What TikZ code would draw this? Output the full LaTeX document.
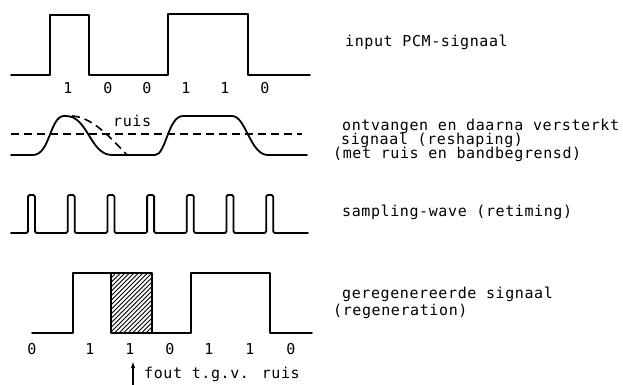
\documentclass[tikz,border=0pt]{standalone}
\usepackage{fontspec}
\newfontfamily\tw[LetterSpace=4]{DejaVu Sans Mono}
\usetikzlibrary{arrows.meta}
\tikzset{
  sig/.style={line width=1.8pt, line join=round, line cap=round},
  txt/.style={font=\tw\fontsize{15}{18}\selectfont, inner sep=0pt, anchor=base west},
  bitlbl/.style={font=\tw\fontsize{15}{18}\selectfont, inner sep=0pt},
  dsh/.style={line width=1.6pt, dash pattern=on 8pt off 5pt},
}
\begin{document}
\begin{tikzpicture}[x=1pt,y=-1pt]
\useasboundingbox (0,0) rectangle (623,385);
% row 1: input PCM signal
\draw[sig] (11,75) -- (50,75) -- (50,15) -- (89,15) -- (89,75) -- (168,75) -- (168,14) -- (248,14) -- (248,75) -- (310,75);
\foreach \x/\b [count=\i] in {68/1,108/0,147/0,186/1,225/1,265/0}
  \node[bitlbl] (top\i) at (\x,88) {\b};
% row 2: received signal
\draw[dsh] (11,134) -- (302,134);
\draw[sig] (11,155) -- (33,155) .. controls (50,155) and (50,116) .. (64,116) -- (66,116)
  .. controls (88,116) and (90,155) .. (112,155) -- (155,155)
  .. controls (166,155) and (168,116) .. (183,116) -- (232,116)
  .. controls (246,116) and (250,155) .. (268,155) -- (307,155);
\draw[dsh] (72,116) .. controls (92,117) and (110,137) .. (127,155);
\node[txt] (ruis) at (113,127) {ruis};
% row 3: sampling wave
\draw[sig, rounded corners=1.5pt] (11,233)
  \foreach \x in {28,67.7,107.4,147.1,186.8,226.5,266.2} { -- (\x,233) -- (\x,195) -- (\x+7,195) -- (\x+7,233) }
  -- (308,233);
% row 4: regenerated signal
\begin{scope}
  \clip (111,273) rectangle (152,333);
  \foreach \i in {-64,-59.5,...,46} \draw[line width=0.9pt] (111+\i,333) -- ++(60,-60);
\end{scope}
\draw[sig] (32,333) -- (73,333) -- (73,273) -- (152,273) -- (152,333) -- (191,333) -- (191,273) -- (270,273) -- (270,333) -- (312,333);
\draw[sig] (111,273) -- (111,333) -- (152,333);
\foreach \x/\b [count=\i] in {32/0,90/1,130/1,170/0,209/1,250/1,291/0}
  \node[bitlbl] (bot\i) at (\x,349) {\b};
\coordinate (atail) at (133,386);
\coordinate (ahead) at (133,361);
\draw[line width=1.4pt, -{Latex[length=7pt,width=4.5pt]}] (atail) -- (ahead);
\node[txt] (fout) at (144,378) {fout t.g.v. ruis};
% right-hand captions
\node[txt] (c1) at (345,47) {input PCM-signaal};
\node[txt] (c2) at (342,130) {ontvangen en daarna versterkt};
\node[txt] (c3) at (341,144) {signaal (reshaping)};
\node[txt] (c4) at (333,158) {(met ruis en bandbegrensd)};
\node[txt] (c5) at (342,216) {sampling-wave (retiming)};
\node[txt] (c6) at (342,298) {geregenereerde signaal};
\node[txt] (c7) at (333,315) {(regeneration)};
\end{tikzpicture}
\end{document}
